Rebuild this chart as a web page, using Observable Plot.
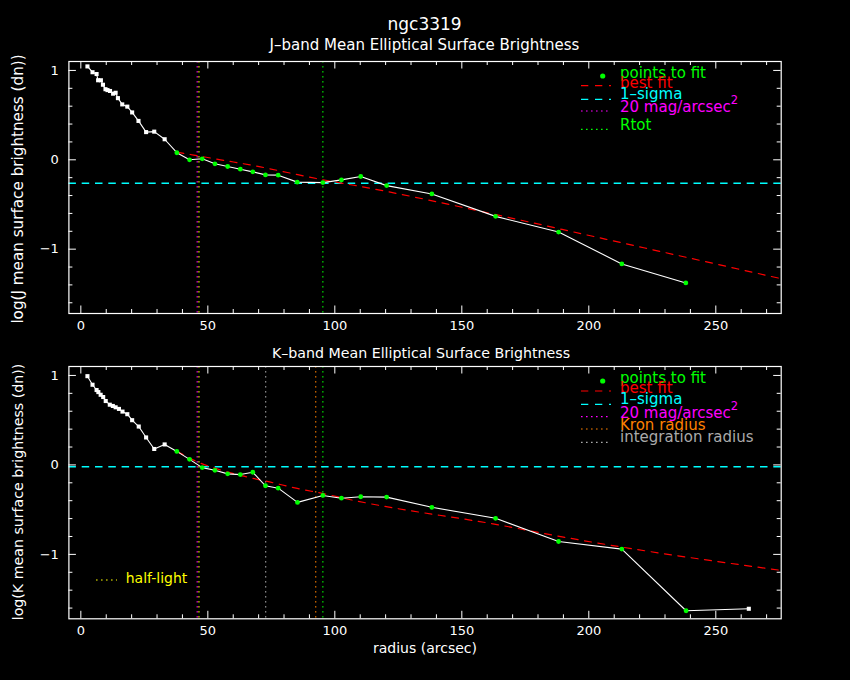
<!DOCTYPE html>
<html><head><meta charset="utf-8">
<script src="https://cdn.jsdelivr.net/npm/d3@7"></script>
<script src="https://cdn.jsdelivr.net/npm/@observablehq/plot@0.6"></script>
<style>
html,body{margin:0;padding:0;background:#000;}
#wrap{position:relative;width:850px;height:680px;background:#000;overflow:hidden;font-family:"DejaVu Sans";}
#wrap > svg{position:absolute;left:0;}
</style></head><body><div id="wrap"></div>
<script>
// ---------- data ----------
// J band
const jWhiteR = [2.6, 4.6, 6.2, 6.8, 7.9, 8.7, 9.7, 10.5, 11.5, 12.7, 13.7, 14.6, 16.3, 18.3, 20.2, 22.7, 25.7, 28.9, 33.0];
const jWhiteY = [1.045, 0.98, 0.96, 0.89, 0.89, 0.84, 0.79, 0.78, 0.77, 0.74, 0.75, 0.69, 0.62, 0.595, 0.53, 0.435, 0.31, 0.315, 0.23];
const jFitR = [37.8, 42.8, 47.8, 52.8, 57.8, 62.8, 67.7, 72.7, 77.7, 85.2, 95.3, 102.6, 110.2, 120.4, 138.2, 163.3, 188.1, 213.0, 238.2];
const jFitY = [0.079, 0.0, 0.011, -0.045, -0.075, -0.105, -0.135, -0.169, -0.172, -0.25, -0.255, -0.225, -0.187, -0.289, -0.382, -0.633, -0.809, -1.165, -1.378];
const jCurveR = [37.8, 44.4, 55, 70.7, 81.3, 97, 107.5, 165.2, 189.5, 217.7, 275.5];
const jCurveY = [0.085, 0.053, 0.0, -0.079, -0.142, -0.233, -0.285, -0.625, -0.779, -0.959, -1.329];
const jSigma = -0.262;
const jMag20 = 45.8, jHalf = 46.5, jRtot = 95.3;

// K band
const kWhiteR = [2.6, 4.6, 6.2, 6.9, 7.8, 8.8, 9.8, 11.4, 12.6, 13.7, 15.0, 16.4, 18.3, 20.2, 22.8, 25.7, 28.9, 33.0];
const kWhiteY = [0.992, 0.896, 0.837, 0.814, 0.784, 0.759, 0.714, 0.673, 0.659, 0.644, 0.626, 0.596, 0.567, 0.5, 0.429, 0.307, 0.178, 0.229];
const kFitR = [37.8, 42.8, 47.8, 52.8, 57.8, 62.8, 67.7, 72.7, 77.7, 85.3, 95.3, 102.6, 110.2, 120.4, 138.2, 163.3, 188.1, 213.0, 238.3];
const kFitY = [0.151, 0.062, -0.03, -0.06, -0.1, -0.108, -0.082, -0.233, -0.26, -0.419, -0.341, -0.372, -0.356, -0.36, -0.474, -0.597, -0.856, -0.941, -1.63];
const kTailR = [263.0];
const kTailY = [-1.608];
const kCurveR = [37.8, 39.5, 44.8, 53.7, 64.2, 74.7, 85.2, 95.7, 106.2, 165.2, 189.5, 212.5, 275.5];
const kCurveY = [0.151, 0.126, 0.048, -0.045, -0.126, -0.193, -0.263, -0.322, -0.389, -0.674, -0.804, -0.916, -1.178];
const kSigma = -0.02;
const kMag20 = 45.8, kHalf = 46.5, kIntegration = 72.8, kKron = 92.5, kRtot = 95.3;

// axes
const xDomain = [-4.7, 275.75];
const yDomain = [-1.72, 1.1];
const xMajor = [0, 50, 100, 150, 200, 250];
const xMinor = [10, 20, 30, 40, 60, 70, 80, 90, 110, 120, 130, 140, 160, 170, 180, 190, 210, 220, 230, 240, 260, 270];
const yMajor = [-1, 0, 1];
const yMinor = [-1.6, -1.4, -1.2, -0.8, -0.6, -0.4, -0.2, 0.2, 0.4, 0.6, 0.8];

// colours
const C = {green: "#00ff00", red: "#ff0000", cyan: "#00ffff", magenta: "#ff00ff", yellow: "#ffff00", orange: "#ff8000", gray: "#aaaaaa"};

const zip = (R, Y) => R.map((r, i) => ({r, v: Y[i]}));
const intFmt = d => d < 0 ? "\u2212" + Math.abs(d) : String(d);

const W = 850, H = 340;
const mL = 68.4, mR = 69.3;

function panel({white, fit, tail, curve, sigma, vlines, marginTop, marginBottom, top}) {
  const ph = H - marginTop - marginBottom;
  const pw = W - mL - mR;
  const all = [...white, ...fit, ...tail];
  const major = 7.5, minor = 4;
  const chart = Plot.plot({
    width: W, height: H,
    marginLeft: mL, marginRight: mR, marginTop, marginBottom,
    x: {domain: xDomain, axis: null},
    y: {domain: yDomain, axis: null},
    style: {background: "transparent", color: "white", fontFamily: "DejaVu Sans", fontSize: "13px"},
    marks: [
      ...vlines.map(d => Plot.ruleX([d.x], {stroke: d.color, strokeWidth: 1, strokeDasharray: "1.6,3.4"})),
      Plot.ruleY([sigma], {stroke: C.cyan, strokeWidth: 1.4, strokeDasharray: "7.5,5.8"}),
      Plot.line(curve, {x: "r", y: "v", stroke: C.red, strokeWidth: 1.2, strokeDasharray: "7,6.5", curve: "monotone-x"}),
      Plot.line(all, {x: "r", y: "v", stroke: "white", strokeWidth: 1.1}),
      Plot.dot([...white, ...tail], {x: "r", y: "v", symbol: "square", r: 2.3, fill: "white"}),
      Plot.dot(fit, {x: "r", y: "v", r: 2.4, fill: C.green}),
      // inward ticks on all four sides
      Plot.ruleX(xMajor, {x: d => d, stroke: "white", insetTop: ph - major}),
      Plot.ruleX(xMinor, {x: d => d, stroke: "white", insetTop: ph - minor}),
      Plot.ruleX(xMajor, {x: d => d, stroke: "white", insetBottom: ph - major}),
      Plot.ruleX(xMinor, {x: d => d, stroke: "white", insetBottom: ph - minor}),
      Plot.ruleY(yMajor, {y: d => d, stroke: "white", insetRight: pw - major}),
      Plot.ruleY(yMinor, {y: d => d, stroke: "white", insetRight: pw - minor}),
      Plot.ruleY(yMajor, {y: d => d, stroke: "white", insetLeft: pw - major}),
      Plot.ruleY(yMinor, {y: d => d, stroke: "white", insetLeft: pw - minor}),
      Plot.frame({stroke: "white", strokeWidth: 1.2}),
      Plot.axisX({ticks: xMajor, tickSize: 0, tickPadding: 7, fontSize: 13, label: null, fill: "white", tickFormat: intFmt}),
      Plot.axisY({ticks: yMajor, tickSize: 0, tickPadding: 10, fontSize: 13, label: null, fill: "white", tickFormat: intFmt})
    ]
  });
  chart.style.top = top + "px";
  return chart;
}

const wrap = document.getElementById("wrap");
wrap.appendChild(panel({
  white: zip(jWhiteR, jWhiteY), fit: zip(jFitR, jFitY), tail: [], curve: zip(jCurveR, jCurveY),
  sigma: jSigma,
  vlines: [{x: jMag20, color: C.magenta}, {x: jHalf, color: C.yellow}, {x: jRtot, color: C.green}],
  marginTop: 61, marginBottom: 27, top: 0
}));
wrap.appendChild(panel({
  white: zip(kWhiteR, kWhiteY), fit: zip(kFitR, kFitY), tail: zip(kTailR, kTailY), curve: zip(kCurveR, kCurveY),
  sigma: kSigma,
  vlines: [{x: kMag20, color: C.magenta}, {x: kHalf, color: C.yellow}, {x: kIntegration, color: C.gray}, {x: kKron, color: C.orange}, {x: kRtot, color: C.green}],
  marginTop: 26, marginBottom: 61.7, top: 340
}));

// ---------- overlay: titles, axis labels, legends ----------
const ov = d3.select(wrap).append("svg").attr("width", W).attr("height", 680)
  .style("position", "absolute").style("top", "0px").style("left", "0px")
  .style("font-family", "DejaVu Sans");

function txt(s, x, y, size, color, anchor = "start", rotate = false) {
  const t = ov.append("text").attr("x", x).attr("y", y).attr("fill", color)
    .attr("font-size", size).attr("text-anchor", anchor).text(s);
  if (rotate) t.attr("transform", `rotate(-90 ${x} ${y})`).attr("dy", "0.35em");
  return t;
}
txt("ngc3319", 424.6, 29.7, 17, "white", "middle");
txt("J–band Mean Elliptical Surface Brightness", 424.5, 50.3, 15, "white", "middle");
txt("K–band Mean Elliptical Surface Brightness", 421, 357.5, 14.2, "white", "middle");
txt("log(J mean surface brightness (dn))", 18, 189, 15.2, "white", "middle", true);
txt("log(K mean surface brightness (dn))", 18, 492, 14.2, "white", "middle", true);
txt("radius (arcsec)", 425, 653, 14, "white", "middle");

function sample(y, color, dash, x1 = 581, x2 = 611) {
  ov.append("line").attr("x1", x1).attr("x2", x2).attr("y1", y).attr("y2", y)
    .attr("stroke", color).attr("stroke-width", 1.2).attr("stroke-dasharray", dash);
}
const dashPat = "7.3,6.7", dotPat = "1.6,3.4";
const LS = 15;
function magText(y) {
  const t = txt("20 mag/arcsec", 620, y, LS, C.magenta);
  t.append("tspan").attr("dy", -8).attr("font-size", 11.5).text("2");
}
// J legend
ov.append("circle").attr("cx", 602.7).attr("cy", 76).attr("r", 2.6).attr("fill", C.green);
txt("points to fit", 620, 78.3, LS, C.green);
sample(85.7, C.red, dashPat); txt("best fit", 620, 88.3, LS, C.red);
sample(99.3, C.cyan, dashPat); txt("1–sigma", 620, 99.3, LS, C.cyan);
sample(111, C.magenta, dotPat); magText(111.7);
sample(129.3, C.green, dotPat); txt("Rtot", 620, 130, LS, C.green);
// K legend
ov.append("circle").attr("cx", 602.7).attr("cy", 381).attr("r", 2.6).attr("fill", C.green);
txt("points to fit", 620, 383.3, LS, C.green);
sample(391, C.red, dashPat); txt("best fit", 620, 392.7, LS, C.red);
sample(404.3, C.cyan, dashPat); txt("1–sigma", 620, 404.3, LS, C.cyan);
sample(416.7, C.magenta, dotPat); magText(417.7);
sample(429, C.orange, dotPat); txt("Kron radius", 620, 430, LS, C.orange);
sample(442.3, C.gray, dotPat); txt("integration radius", 620, 442.3, LS, C.gray);
// half-light
sample(580, C.yellow, dotPat, 96, 117);
txt("half-light", 125.7, 583, 14, C.yellow);
</script></body></html>
